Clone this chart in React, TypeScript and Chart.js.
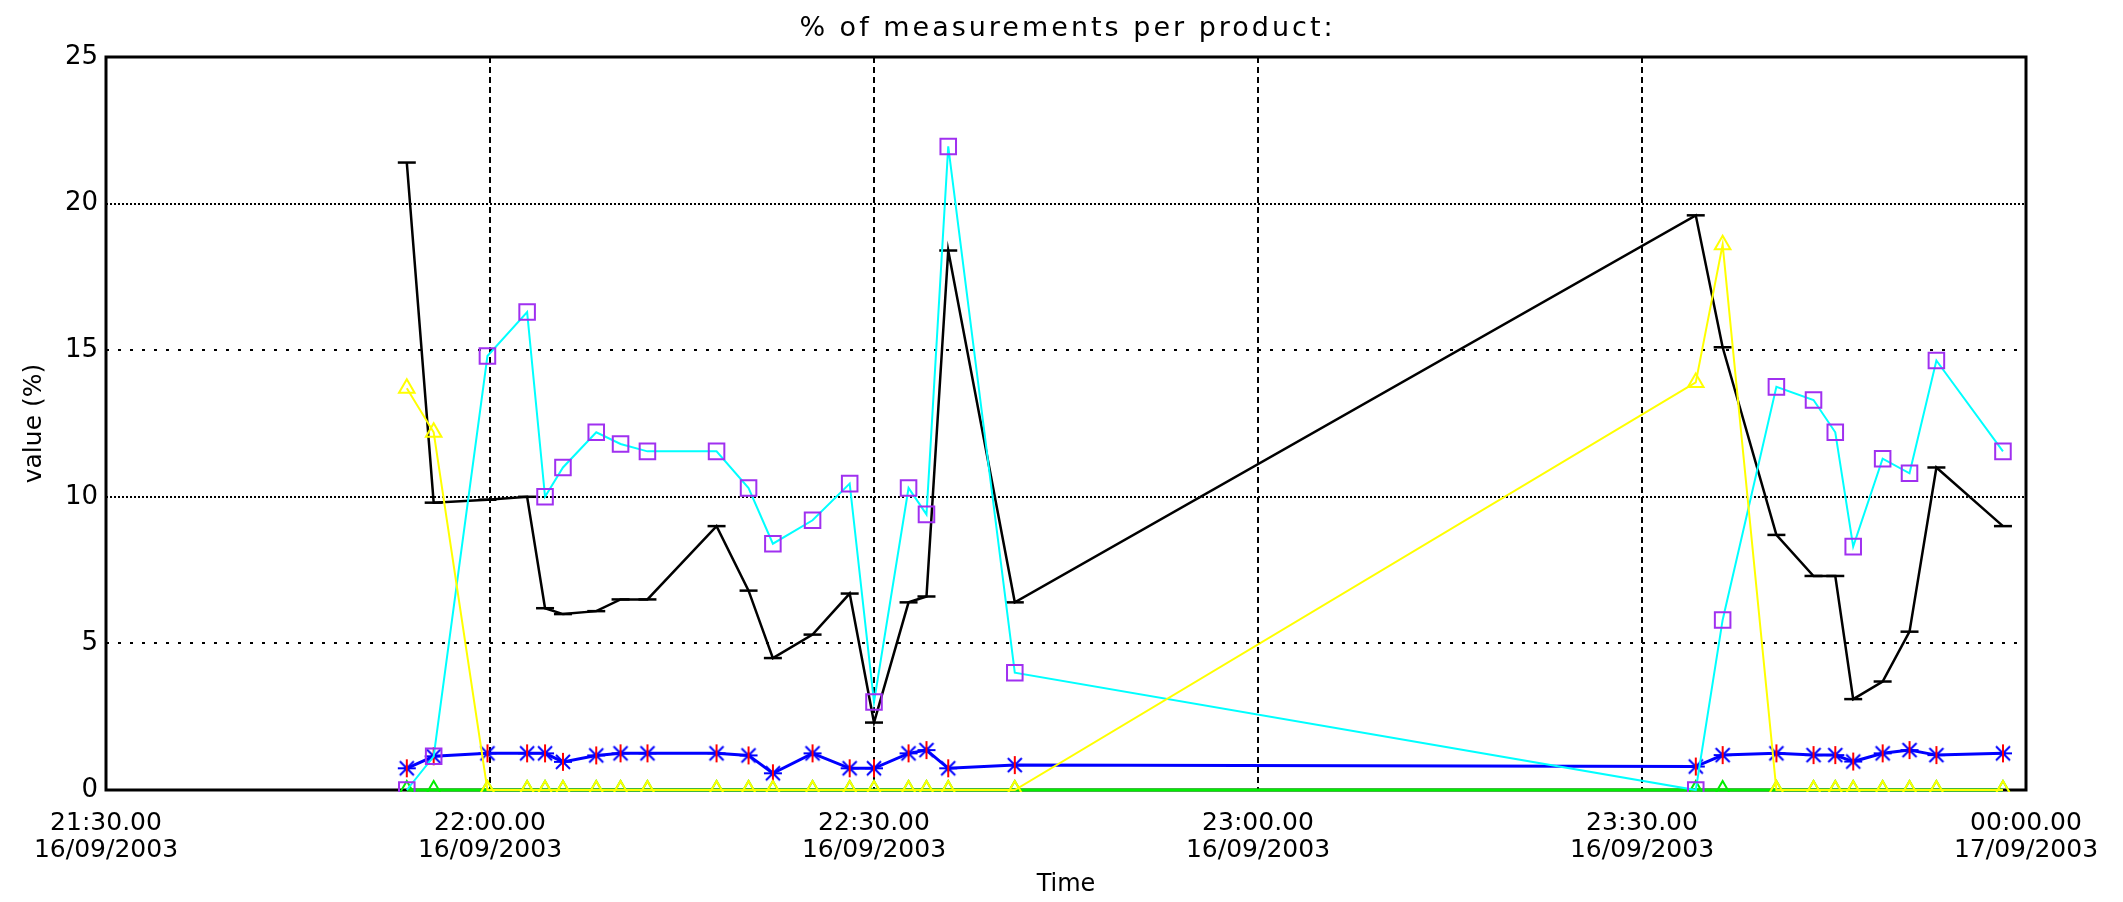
import React, { useEffect, useRef } from 'react';
import { Chart, registerables } from 'chart.js';

Chart.register(...registerables);

// ---- text ----
const TITLE = '% of measurements per product:';
const Y_TITLE = 'value (%)';
const X_TITLE = 'Time';

// ---- axis ticks (x in minutes after 21:30 on 16/09/2003) ----
const X_TICK_TIMES = ['21:30.00', '22:00.00', '22:30.00', '23:00.00', '23:30.00', '00:00.00'];
const X_TICK_DATES = ['16/09/2003', '16/09/2003', '16/09/2003', '16/09/2003', '16/09/2003', '17/09/2003'];
const X_MIN = 0;
const X_MAX = 150;
const X_STEP = 30;
const Y_MIN = 0;
const Y_MAX = 25;
const Y_STEP = 5;

// ---- measurement times (minutes after 21:30) ----
const MINUTES = [
  23.5, 25.6, 29.8, 32.9, 34.3, 35.7, 38.3, 40.2, 42.3, 47.7,
  50.2, 52.1, 55.2, 58.1, 60.0, 62.7, 64.1, 65.8, 71.0, 124.2,
  126.3, 130.5, 133.4, 135.1, 136.5, 138.8, 140.9, 143.0, 148.2,
];

// ---- series values (%) ----
const BLACK_VALUES = [
  21.4, 9.8, 9.9, 10.0, 6.2, 6.0, 6.1, 6.5, 6.5, 9.0,
  6.8, 4.5, 5.3, 6.7, 2.3, 6.4, 6.6, 18.4, 6.4, 19.6,
  15.1, 8.7, 7.3, 7.3, 3.1, 3.7, 5.4, 11.0, 9.0,
];
const CYAN_VALUES = [
  0, 1.15, 14.8, 16.3, 10.0, 11.0, 12.2, 11.8, 11.55, 11.55,
  10.3, 8.4, 9.2, 10.45, 3.0, 10.3, 9.4, 21.95, 4.0, 0,
  5.8, 13.75, 13.3, 12.2, 8.3, 11.3, 10.8, 14.65, 11.55,
];
const BLUE_VALUES = [
  0.74, 1.15, 1.25, 1.25, 1.25, 0.96, 1.18, 1.25, 1.25, 1.25,
  1.18, 0.57, 1.25, 0.74, 0.74, 1.25, 1.36, 0.74, 0.85, 0.8,
  1.19, 1.25, 1.19, 1.19, 0.97, 1.25, 1.36, 1.19, 1.25,
];
const YELLOW_VALUES = [
  13.7, 12.2, 0, 0, 0, 0, 0, 0, 0, 0,
  0, 0, 0, 0, 0, 0, 0, 0, 0, 13.9,
  18.6, 0, 0, 0, 0, 0, 0, 0, 0,
];
const GREEN_VALUES = [
  0, 0, 0, 0, 0, 0, 0, 0, 0, 0,
  0, 0, 0, 0, 0, 0, 0, 0, 0, 0,
  0, 0, 0, 0, 0, 0, 0, 0, 0,
];

const FONT = '"DejaVu Sans", "Liberation Sans", sans-serif';

function toPoints(values: number[]) {
  return MINUTES.map((m, i) => ({ x: m, y: values[i] }));
}

function makeAsterisk(): HTMLCanvasElement {
  const c = document.createElement('canvas');
  c.width = 20;
  c.height = 20;
  const g = c.getContext('2d')!;
  g.lineWidth = 2;
  g.strokeStyle = '#0000ff';
  g.beginPath();
  g.moveTo(3, 3); g.lineTo(17, 17);
  g.moveTo(17, 3); g.lineTo(3, 17);
  g.moveTo(1, 10); g.lineTo(19, 10);
  g.stroke();
  g.strokeStyle = '#ff0000';
  g.beginPath();
  g.moveTo(10, 1); g.lineTo(10, 19);
  g.stroke();
  return c;
}

const frameAndTitle = {
  id: 'frameAndTitle',
  beforeDatasetsDraw(chart: any) {
    const { ctx, chartArea: a } = chart;
    ctx.save();
    ctx.strokeStyle = '#000';
    ctx.lineWidth = 3;
    ctx.strokeRect(a.left, a.top, a.right - a.left, a.bottom - a.top);
    ctx.restore();
  },
  afterDraw(chart: any) {
    const { ctx, chartArea: a } = chart;
    ctx.save();
    ctx.font = `27px ${FONT}`;
    (ctx as any).letterSpacing = '3px';
    ctx.fillStyle = '#000';
    ctx.textAlign = 'left';
    ctx.textBaseline = 'middle';
    const w = ctx.measureText(TITLE).width - 3;
    ctx.fillText(TITLE, (a.left + a.right) / 2 - w / 2, 29);
    ctx.restore();
  },
};

export default function App() {
  const ref = useRef<HTMLCanvasElement | null>(null);

  useEffect(() => {
    if (!ref.current) return;
    const asterisk = makeAsterisk();
    const bottomClip = { left: 0, top: 0, right: 0, bottom: 2 };
    const chart = new Chart(ref.current, {
      type: 'line',
      data: {
        datasets: [
          {
            label: 'yellow',
            data: toPoints(YELLOW_VALUES),
            borderColor: '#ffff00',
            borderWidth: 2,
            pointStyle: 'triangle',
            pointRadius: 9,
            pointBorderColor: '#ffff00',
            pointBackgroundColor: 'rgba(0,0,0,0)',
            pointBorderWidth: 2,
            clip: bottomClip,
          },
          {
            label: 'cyan',
            data: toPoints(CYAN_VALUES),
            borderColor: '#00ffff',
            borderWidth: 2,
            pointStyle: 'rect',
            pointRadius: 11,
            pointBorderColor: '#a030f0',
            pointBackgroundColor: 'rgba(0,0,0,0)',
            pointBorderWidth: 2,
            clip: bottomClip,
          },
          {
            label: 'blue',
            data: toPoints(BLUE_VALUES),
            borderColor: '#0000ff',
            borderWidth: 3,
            pointStyle: asterisk,
            pointRadius: 10,
            clip: bottomClip,
          },
          {
            label: 'black',
            data: toPoints(BLACK_VALUES),
            borderColor: '#000000',
            borderWidth: 2.5,
            pointStyle: 'line',
            pointRadius: 9,
            pointBorderColor: '#000000',
            pointBorderWidth: 2.5,
            clip: bottomClip,
          },
          {
            label: 'green',
            data: toPoints(GREEN_VALUES),
            borderColor: '#00ee00',
            borderWidth: 3,
            pointStyle: 'triangle',
            pointRadius: 9,
            pointBorderColor: '#00ee00',
            pointBackgroundColor: 'rgba(0,0,0,0)',
            pointBorderWidth: 2,
            clip: bottomClip,
          },
        ],
      },
      options: {
        animation: false,
        responsive: true,
        maintainAspectRatio: false,
        devicePixelRatio: 1,
        layout: { padding: { top: 57, right: 97, left: 0, bottom: 0 } },
        plugins: {
          legend: { display: false },
          tooltip: { enabled: false },
          title: { display: false },
        },
        elements: { line: { tension: 0 } },
        scales: {
          x: {
            type: 'linear',
            min: X_MIN,
            max: X_MAX,
            afterFit: (s: any) => { s.height = 112; },
            ticks: {
              stepSize: X_STEP,
              maxRotation: 0,
              autoSkip: false,
              padding: 20,
              color: '#000',
              font: { family: FONT, size: 25, lineHeight: 1.08 },
              callback: (v: any) => {
                const i = Math.round((Number(v) - X_MIN) / X_STEP);
                return [X_TICK_TIMES[i], X_TICK_DATES[i]];
              },
            },
            grid: {
              drawTicks: false,
              lineWidth: 2,
              color: (c: any) =>
                c.tick && (c.tick.value === X_MIN || c.tick.value === X_MAX) ? 'rgba(0,0,0,0)' : '#000',
            },
            border: { display: false, dash: [6, 4] },
            title: {
              display: true,
              text: X_TITLE,
              color: '#000',
              font: { family: FONT, size: 24 },
              padding: { top: 0, bottom: 3 },
            },
          },
          y: {
            type: 'linear',
            min: Y_MIN,
            max: Y_MAX,
            afterFit: (s: any) => { s.width = 106; },
            ticks: {
              stepSize: Y_STEP,
              padding: 8,
              color: '#000',
              font: { family: FONT, size: 26 },
            },
            grid: {
              drawTicks: false,
              lineWidth: 2,
              color: (c: any) =>
                c.tick && (c.tick.value === Y_MIN || c.tick.value === Y_MAX) ? 'rgba(0,0,0,0)' : '#000',
            },
            border: {
              display: false,
              dash: (c: any) => (c.tick && c.tick.value % 10 === 0 ? [2, 2] : [3, 9]),
            },
            title: {
              display: true,
              text: Y_TITLE,
              color: '#000',
              font: { family: FONT, size: 25 },
              padding: { top: 19, bottom: 0 },
            },
          },
        },
      },
      plugins: [frameAndTitle],
    } as any);
    return () => chart.destroy();
  }, []);

  return (
    <div style={{ position: 'absolute', left: 0, top: 0, width: 2123, height: 902, background: '#fff' }}>
      <canvas ref={ref} />
    </div>
  );
}
